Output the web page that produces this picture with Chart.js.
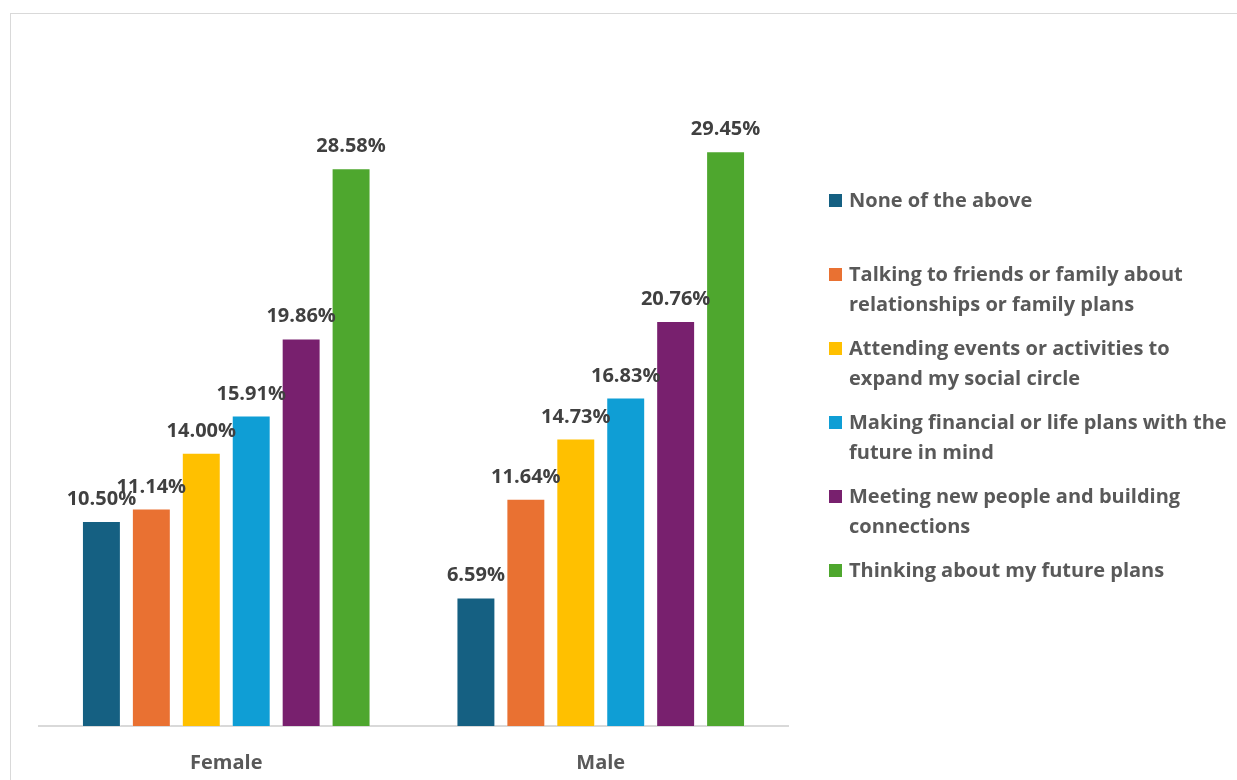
<!DOCTYPE html>
<html>
<head>
<meta charset="utf-8">
<script src="https://cdn.jsdelivr.net/npm/chart.js@4.4.1/dist/chart.umd.min.js"></script>
<style>
  html, body { margin: 0; padding: 0; background: #fff; }
  body { width: 1237px; height: 780px; position: relative; overflow: hidden; font-family: "Open Sans", Lato, sans-serif; }
  #frame { position: absolute; left: 10px; top: 13px; width: 1260px; height: 800px; border: 1px solid #d9d9d9; box-sizing: border-box; }
  #wrap { position: absolute; left: 0; top: 0; width: 1237px; height: 780px; }
  #legend { position: absolute; left: 829px; top: 185px; margin: 0; padding: 0; list-style: none; }
  #legend li { position: relative; height: 74px; padding-left: 20px; font-weight: 700; font-size: 20px; line-height: 30px; color: #595959; white-space: nowrap; }
  #legend li span.box { position: absolute; left: 0; top: 9px; width: 13px; height: 13px; }
</style>
</head>
<body>
<div id="frame"></div>
<div id="wrap"><canvas id="myChart" width="1237" height="780"></canvas></div>
<ul id="legend"></ul>
<script>
"use strict";

const groups = ['Female', 'Male'];

const seriesLabels = [
  ['None of the above'],
  ['Talking to friends or family about', 'relationships or family plans'],
  ['Attending events or activities to', 'expand my social circle'],
  ['Making financial or life plans with the', 'future in mind'],
  ['Meeting new people and building', 'connections'],
  ['Thinking about my future plans']
];

const noneOfAbove    = [10.50, 6.59];
const talkingFamily  = [11.14, 11.64];
const attendEvents   = [14.00, 14.73];
const financialPlans = [15.91, 16.83];
const meetingPeople  = [19.86, 20.76];
const futurePlans    = [28.58, 29.45];

const colors = ['#156082', '#E97132', '#FFC000', '#0F9ED5', '#78206E', '#4EA72E'];

const seriesValues = [noneOfAbove, talkingFamily, attendEvents, financialPlans, meetingPeople, futurePlans];

const FONT = '"Open Sans", Lato, sans-serif';

// value labels above each bar
const barValueLabels = {
  id: 'barValueLabels',
  afterDatasetsDraw(chart) {
    const ctx = chart.ctx;
    ctx.save();
    ctx.font = '700 20px ' + FONT;
    ctx.fillStyle = '#404040';
    ctx.textAlign = 'center';
    ctx.textBaseline = 'alphabetic';
    chart.data.datasets.forEach((ds, i) => {
      chart.getDatasetMeta(i).data.forEach((bar, j) => {
        ctx.fillText(ds.data[j].toFixed(2) + '%', bar.x, bar.y - 16);
      });
    });
    ctx.restore();
  }
};

const ctx = document.getElementById('myChart').getContext('2d');
const myChart = new Chart(ctx, {
  type: 'bar',
  data: {
    labels: groups,
    datasets: seriesValues.map((vals, i) => ({
      label: seriesLabels[i].join(' '),
      data: vals,
      backgroundColor: colors[i],
      borderColor: 'rgba(255,255,255,0.35)',
      borderWidth: 1,
      categoryPercentage: 0.8,
      barPercentage: 0.78
    }))
  },
  options: {
    responsive: false,
    animation: false,
    layout: { padding: { left: 39, right: 449, top: 43, bottom: 0 } },
    plugins: {
      legend: { display: false },
      tooltip: { enabled: false }
    },
    scales: {
      x: {
        grid: { display: false },
        border: { display: true, color: '#d9d9d9', width: 2 },
        ticks: {
          color: '#595959',
          padding: 17,
          font: { family: FONT, size: 20, weight: '700' }
        },
        afterFit: (scale) => { scale.height = 54; }
      },
      y: {
        display: false,
        min: 0,
        max: 35
      }
    }
  },
  plugins: [barValueLabels]
});

// legend on the right, one entry per series
const legend = document.getElementById('legend');
seriesLabels.forEach((lines, i) => {
  const li = document.createElement('li');
  const box = document.createElement('span');
  box.className = 'box';
  box.style.background = colors[i];
  li.appendChild(box);
  lines.forEach((line, k) => {
    if (k > 0) li.appendChild(document.createElement('br'));
    li.appendChild(document.createTextNode(line));
  });
  legend.appendChild(li);
});
</script>
</body>
</html>
